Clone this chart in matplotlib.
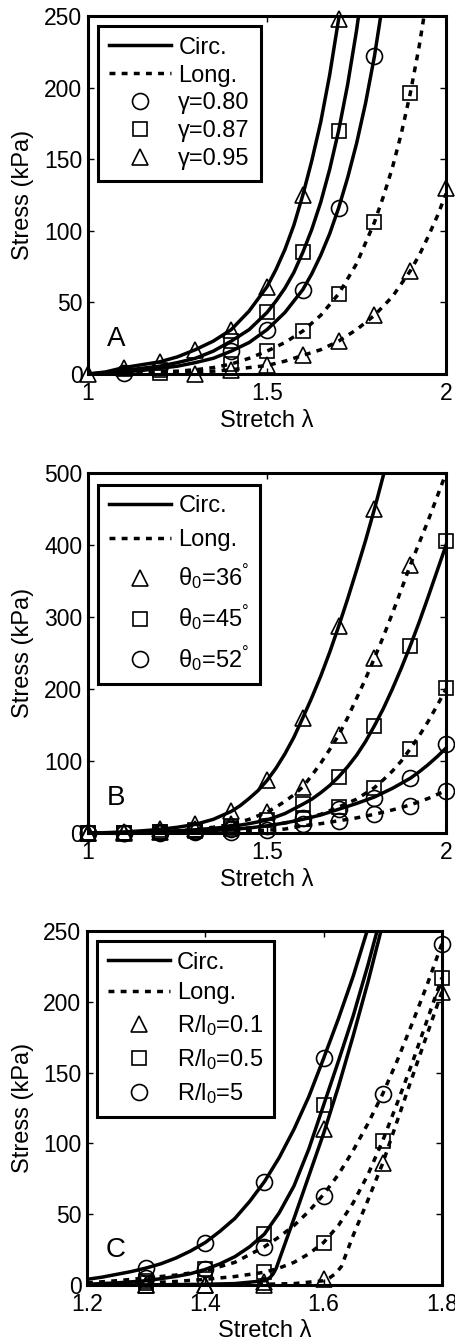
import matplotlib
matplotlib.use("Agg")
import matplotlib.pyplot as plt
from matplotlib.lines import Line2D

plt.rcParams['font.family'] = ['Liberation Sans', 'DejaVu Sans']
plt.rcParams['mathtext.fontset'] = 'custom'
plt.rcParams['mathtext.rm'] = 'Liberation Sans'
plt.rcParams['mathtext.it'] = 'Liberation Sans:italic'
plt.rcParams['mathtext.bf'] = 'Liberation Sans:bold'
plt.rcParams['mathtext.default'] = 'regular'

# ---------------- Panel A: effect of gamma ----------------
a_lam_c95 = [1.0, 1.05, 1.1, 1.15, 1.2, 1.25, 1.3, 1.35, 1.4, 1.45, 1.5, 1.525, 1.55, 1.575,
             1.6, 1.625, 1.65, 1.675, 1.7, 1.725]
a_c95 = [0, 1.5, 4.5, 6.5, 8.5, 12, 17, 23, 31, 44, 61, 73, 87, 104,
         125, 149, 176, 209, 248, 293]
a_lam_c87 = [1.0, 1.05, 1.1, 1.15, 1.2, 1.25, 1.3, 1.35, 1.4, 1.45, 1.5, 1.525, 1.55, 1.575,
             1.6, 1.625, 1.65, 1.675, 1.7, 1.725, 1.75, 1.775]
a_c87 = [0, 1, 2.5, 4, 5.5, 8, 11, 16, 23, 31, 43, 51, 60, 71,
         85, 101, 120, 143, 170, 202, 240, 285]
a_lam_c80 = [1.0, 1.05, 1.1, 1.15, 1.2, 1.25, 1.3, 1.35, 1.4, 1.45, 1.5, 1.55, 1.6, 1.625,
             1.65, 1.675, 1.7, 1.725, 1.75, 1.775, 1.8, 1.825]
a_c80 = [0, 0.5, 1.5, 2.5, 4, 5.5, 8, 11, 16, 22, 31, 43, 59, 70,
         83, 98, 116, 137, 161, 189, 222, 262]
a_lam_l87 = [1.0, 1.05, 1.1, 1.15, 1.2, 1.25, 1.3, 1.35, 1.4, 1.45, 1.5, 1.55, 1.6, 1.65,
             1.7, 1.75, 1.8, 1.825, 1.85, 1.875, 1.9, 1.925, 1.95]
a_l87 = [0, 0.2, 0.5, 1, 1.5, 2, 3, 4.5, 7, 11, 16, 22, 30, 41,
         56, 77, 106, 124, 144, 168, 196, 229, 268]
a_lam_l95 = [1.0, 1.05, 1.1, 1.15, 1.2, 1.25, 1.3, 1.35, 1.4, 1.45, 1.5, 1.55, 1.6, 1.65,
             1.7, 1.75, 1.8, 1.85, 1.9, 1.925, 1.95, 1.975, 2.0]
a_l95 = [0, 0, 0.2, 0.4, 0.6, 1, 1.5, 2, 3, 4.5, 6, 9, 13, 17,
         23, 31, 41, 54, 72, 83, 96, 110, 126]

a_pts_c95_x = [1.0, 1.1, 1.2, 1.3, 1.4, 1.5, 1.6, 1.7]
a_pts_c95_y = [0, 4.5, 8.5, 17, 31, 61, 125, 248]
a_pts_c87_x = [1.2, 1.4, 1.5, 1.6, 1.7]
a_pts_c87_y = [2.5, 23, 43, 85, 170]
a_pts_c80_x = [1.1, 1.4, 1.5, 1.6, 1.7, 1.8]
a_pts_c80_y = [0.5, 16, 31, 59, 116, 222]
a_pts_l87_x = [1.2, 1.4, 1.5, 1.6, 1.7, 1.8, 1.9]
a_pts_l87_y = [0.5, 7, 16, 30, 56, 106, 196]
a_pts_l95_x = [1.3, 1.4, 1.5, 1.6, 1.7, 1.8, 1.9, 2.0]
a_pts_l95_y = [0, 3, 6, 13, 23, 41, 72, 130]

# ---------------- Panel B: effect of theta0 ----------------
b_lam_c36 = [1.0, 1.05, 1.1, 1.15, 1.2, 1.25, 1.3, 1.35, 1.4, 1.425, 1.45, 1.475, 1.5, 1.525,
             1.55, 1.575, 1.6, 1.625, 1.65, 1.675, 1.7, 1.725, 1.75, 1.775, 1.8, 1.825, 1.85]
b_c36 = [0, 0.5, 1.5, 3, 5, 8, 12, 19, 30, 38, 48, 59, 73, 90,
         110, 133, 160, 188, 218, 251, 287, 325, 365, 406, 450, 497, 545]
b_lam_l36 = [1.0, 1.05, 1.1, 1.15, 1.2, 1.25, 1.3, 1.35, 1.4, 1.45, 1.5, 1.525, 1.55, 1.575,
             1.6, 1.625, 1.65, 1.675, 1.7, 1.725, 1.75, 1.775, 1.8, 1.825, 1.85, 1.875,
             1.9, 1.925, 1.95, 1.975, 2.0]
b_l36 = [0, 0, 0.3, 0.8, 1.5, 3, 5, 8, 12, 19, 29, 36, 44, 53,
         64, 80, 97, 116, 136, 160, 187, 214, 243, 273, 305, 338,
         372, 403, 434, 467, 500]
b_lam_c45 = [1.0, 1.05, 1.1, 1.15, 1.2, 1.25, 1.3, 1.35, 1.4, 1.45, 1.5, 1.55, 1.6, 1.625,
             1.65, 1.675, 1.7, 1.725, 1.75, 1.775, 1.8, 1.825, 1.85, 1.875, 1.9, 1.925,
             1.95, 1.975, 2.0]
b_c45 = [0, 0.2, 0.6, 1.2, 2, 3, 4.5, 6.5, 9, 13, 18, 27, 40, 47,
         56, 66, 78, 92, 108, 127, 149, 173, 200, 229, 260, 293,
         328, 364, 400]
b_lam_l45 = [1.0, 1.05, 1.1, 1.15, 1.2, 1.25, 1.3, 1.35, 1.4, 1.45, 1.5, 1.55, 1.6, 1.65,
             1.7, 1.75, 1.8, 1.825, 1.85, 1.875, 1.9, 1.925, 1.95, 1.975, 2.0]
b_l45 = [0, 0, 0.2, 0.5, 1, 1.5, 2.5, 3.5, 5, 7, 10, 14, 19, 26,
         36, 47, 63, 74, 86, 100, 117, 135, 155, 177, 200]
b_lam_c52 = [1.0, 1.05, 1.1, 1.15, 1.2, 1.25, 1.3, 1.35, 1.4, 1.45, 1.5, 1.55, 1.6, 1.65,
             1.7, 1.75, 1.8, 1.85, 1.9, 1.925, 1.95, 1.975, 2.0]
b_c52 = [0, 0, 0.2, 0.5, 1, 1.5, 2.5, 3.5, 5, 7, 10, 14, 19, 25,
         33, 41, 50, 62, 76, 85, 95, 106, 118]
b_lam_l52 = [1.0, 1.05, 1.1, 1.15, 1.2, 1.25, 1.3, 1.35, 1.4, 1.45, 1.5, 1.55, 1.6, 1.65,
             1.7, 1.75, 1.8, 1.85, 1.9, 1.95, 2.0]
b_l52 = [0, 0, 0, 0.2, 0.4, 0.7, 1, 1.5, 2, 3, 4, 5.5, 10, 13,
         17, 21, 26, 32, 39, 48, 59]

b_pts_x = [1.0, 1.1, 1.2, 1.3, 1.4, 1.5, 1.6, 1.7, 1.8, 1.9, 2.0]
b_pts_c36 = [0, 2, 5, 13, 30, 73, 160, 287, 450, None, None]
b_pts_l36 = [0, 0.3, 1.5, 5, 12, 29, 64, 136, 243, 372, None]
b_pts_c45 = [0, 0.6, 2, 4.5, 9, 18, 40, 78, 149, 260, 405]
b_pts_l45 = [0, 0.2, 1, 2.5, 5, 10, 19, 36, 63, 117, 202]
b_pts_c52 = [0, 0.2, 1, 2.5, 5, 10, 21, 34, 48, 77, 124]
b_pts_l52 = [0, 0, 0.4, 1, 2, 4, 12, 16, 26, 38, 59]

# ---------------- Panel C: effect of R/l0 ----------------
c_lam_c5 = [1.2, 1.225, 1.25, 1.275, 1.3, 1.325, 1.35, 1.375, 1.4, 1.425, 1.45, 1.475,
            1.5, 1.525, 1.55, 1.575, 1.6, 1.625, 1.65, 1.675, 1.7]
c_c5 = [4, 5.5, 7.5, 9.5, 12, 15, 19, 24, 30, 38, 47, 59,
        73, 90, 110, 133, 160, 188, 218, 252, 290]
c_lam_c05 = [1.2, 1.25, 1.3, 1.325, 1.35, 1.375, 1.4, 1.425, 1.45, 1.475, 1.5, 1.525,
             1.55, 1.575, 1.6, 1.625, 1.65, 1.675, 1.7]
c_c05 = [0.5, 1.5, 3, 4.5, 6, 8, 11, 15, 20, 27, 36, 51,
         70, 96, 127, 158, 190, 226, 265]
c_lam_c01 = [1.2, 1.3, 1.4, 1.45, 1.5, 1.505, 1.51, 1.515, 1.52, 1.55, 1.575, 1.6,
             1.625, 1.65, 1.675, 1.7]
c_c01 = [0, 0.1, 0.5, 1, 3, 4, 5.5, 8, 12, 47, 77, 107,
         140, 176, 214, 255]
c_lam_l5 = [1.2, 1.25, 1.3, 1.35, 1.4, 1.45, 1.5, 1.525, 1.55, 1.575, 1.6, 1.625,
            1.65, 1.675, 1.7, 1.725, 1.75, 1.775, 1.8]
c_l5 = [1.5, 3, 5, 7, 10, 16, 27, 34, 42, 52, 64, 78,
        95, 114, 135, 159, 185, 212, 241]
c_lam_l05 = [1.2, 1.3, 1.35, 1.4, 1.45, 1.5, 1.525, 1.55, 1.575, 1.6, 1.625, 1.65,
             1.675, 1.7, 1.725, 1.75, 1.775, 1.8]
c_l05 = [0.5, 1.5, 2.5, 4, 6, 9, 12, 16, 22, 30, 42, 58,
         78, 102, 129, 157, 187, 217]
c_lam_l01 = [1.2, 1.4, 1.5, 1.55, 1.6, 1.61, 1.62, 1.63, 1.65, 1.675, 1.7, 1.75, 1.8]
c_l01 = [0, 0, 0.5, 1, 3, 5, 8, 13, 35, 60, 86, 147, 207]

c_pts_x = [1.3, 1.4, 1.5, 1.6, 1.7, 1.8]
c_pts_c5 = [12, 30, 73, 160, None, None]
c_pts_c05 = [3, 11, 36, 127, None, None]
c_pts_c01 = [0, 0, 2, 110, None, None]
c_pts_l5 = [5, 11, 27, 63, 135, 241]
c_pts_l05 = [1.5, 4, 9, 30, 102, 217]
c_pts_l01 = [0, 0, 0, 4, 86, 207]

LW = 2.5
DOT = (0, (1.7, 1.8))
MEW = 1.2
MS = {'o': 11.5, 's': 9.5, '^': 12}


def curve(ax, x, y, ls):
    ax.plot(x, y, color='k', lw=LW, linestyle=ls)


def marks(ax, x, y, m):
    pts = [(a, b) for a, b in zip(x, y) if b is not None]
    ax.plot([p[0] for p in pts], [p[1] for p in pts], linestyle='none', marker=m,
            mfc='none', mec='k', ms=MS[m], mew=MEW, clip_on=False, zorder=3)


def legend(ax, entries, anchor, spacing):
    handles = [Line2D([], [], color='k', lw=LW, linestyle='-'),
               Line2D([], [], color='k', lw=LW, linestyle=DOT)]
    labels = ['Circ.', 'Long.']
    for m, lab in entries:
        handles.append(Line2D([], [], linestyle='none', marker=m, mfc='none',
                              mec='k', ms=MS[m], mew=MEW))
        labels.append(lab)
    leg = ax.legend(handles, labels, loc='upper left', bbox_to_anchor=anchor,
                    borderaxespad=0, fontsize=17, handlelength=2.65,
                    handletextpad=0.3, borderpad=0.45, labelspacing=spacing,
                    fancybox=False, framealpha=1, edgecolor='k', numpoints=1)
    leg.get_frame().set_linewidth(2.2)


def style(ax, xlim, ylim, xticks, yticks, xticklabels, letter):
    ax.set_xlim(xlim)
    ax.set_ylim(ylim)
    ax.set_xticks(xticks)
    ax.set_xticklabels(xticklabels)
    ax.set_yticks(yticks)
    ax.tick_params(direction='in', top=True, right=True, length=4, width=1,
                   labelsize=16.5)
    ax.tick_params(axis='x', pad=6)
    ax.tick_params(axis='y', pad=4)
    for s in ax.spines.values():
        s.set_linewidth(2.2)
    ax.set_xlabel('Stretch λ', fontsize=17)
    ax.set_ylabel('Stress (kPa)', fontsize=17)
    ax.xaxis.set_label_coords(0.5, -0.1)
    ax.yaxis.set_label_coords(-0.15, 0.5)
    ax.text(0.053, 0.061, letter, transform=ax.transAxes, fontsize=20,
            ha='left', va='bottom')


fig = plt.figure(figsize=(4.55, 13.44), dpi=100)
axA = fig.add_axes([0.1934, 0.7217, 0.787, 0.2664])
axB = fig.add_axes([0.1934, 0.3802, 0.787, 0.2679])
axC = fig.add_axes([0.1912, 0.0439, 0.780, 0.2634])

# panel A
curve(axA, a_lam_c95, a_c95, '-')
curve(axA, a_lam_c87, a_c87, '-')
curve(axA, a_lam_c80, a_c80, '-')
curve(axA, a_lam_l87, a_l87, DOT)
curve(axA, a_lam_l95, a_l95, DOT)
marks(axA, a_pts_c95_x, a_pts_c95_y, '^')
marks(axA, a_pts_c87_x, a_pts_c87_y, 's')
marks(axA, a_pts_c80_x, a_pts_c80_y, 'o')
marks(axA, a_pts_l87_x, a_pts_l87_y, 's')
marks(axA, a_pts_l95_x, a_pts_l95_y, '^')
style(axA, (1, 2), (0, 250), [1, 1.5, 2], range(0, 251, 50), ['1', '1.5', '2'], 'A')
legend(axA, [('o', 'γ=0.80'), ('s', 'γ=0.87'), ('^', 'γ=0.95')], (0.028, 0.972), 0.25)

# panel B
curve(axB, b_lam_c36, b_c36, '-')
curve(axB, b_lam_l36, b_l36, DOT)
curve(axB, b_lam_c45, b_c45, '-')
curve(axB, b_lam_l45, b_l45, DOT)
curve(axB, b_lam_c52, b_c52, '-')
curve(axB, b_lam_l52, b_l52, DOT)
marks(axB, b_pts_x, b_pts_c36, '^')
marks(axB, b_pts_x, b_pts_l36, '^')
marks(axB, b_pts_x, b_pts_c45, 's')
marks(axB, b_pts_x, b_pts_l45, 's')
marks(axB, b_pts_x, b_pts_c52, 'o')
marks(axB, b_pts_x, b_pts_l52, 'o')
style(axB, (1, 2), (0, 500), [1, 1.5, 2], range(0, 501, 100), ['1', '1.5', '2'], 'B')
legend(axB, [('^', 'θ$_0$=36$^{°}$'), ('s', 'θ$_0$=45$^{°}$'), ('o', 'θ$_0$=52$^{°}$')],
       (0.028, 0.967), 0.5)

# panel C
curve(axC, c_lam_c5, c_c5, '-')
curve(axC, c_lam_c05, c_c05, '-')
curve(axC, c_lam_c01, c_c01, '-')
curve(axC, c_lam_l5, c_l5, DOT)
curve(axC, c_lam_l05, c_l05, DOT)
curve(axC, c_lam_l01, c_l01, DOT)
marks(axC, c_pts_x, c_pts_c5, 'o')
marks(axC, c_pts_x, c_pts_c05, 's')
marks(axC, c_pts_x, c_pts_c01, '^')
marks(axC, c_pts_x, c_pts_l5, 'o')
marks(axC, c_pts_x, c_pts_l05, 's')
marks(axC, c_pts_x, c_pts_l01, '^')
style(axC, (1.2, 1.8), (0, 250), [1.2, 1.4, 1.6, 1.8], range(0, 251, 50),
      ['1.2', '1.4', '1.6', '1.8'], 'C')
legend(axC, [('^', 'R/l$_0$=0.1'), ('s', 'R/l$_0$=0.5'), ('o', 'R/l$_0$=5')],
       (0.028, 0.972), 0.38)

fig.savefig('out.png', dpi=100)
